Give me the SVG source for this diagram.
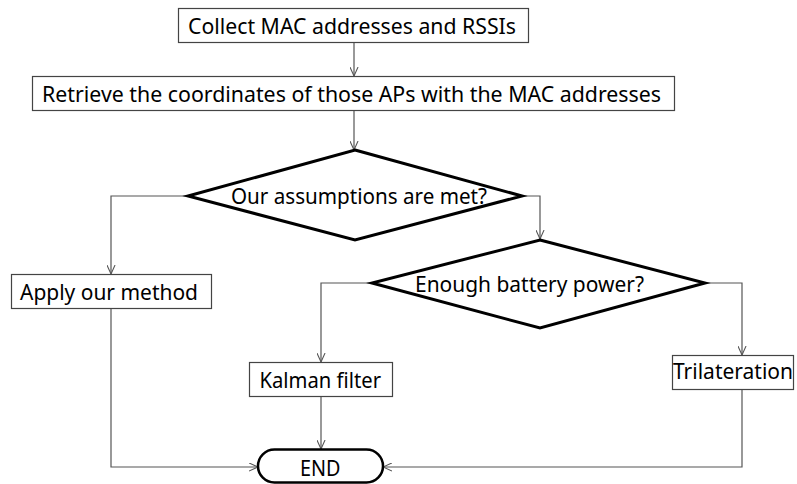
<svg xmlns="http://www.w3.org/2000/svg" width="797" height="484" viewBox="0 0 797 484">
<style>
text{font-family:"Noto Sans","Open Sans","Liberation Sans",sans-serif;font-size:21px;fill:#000}
.box{fill:#fff;stroke:#444;stroke-width:1.2}
.dia{fill:#fff;stroke:#000;stroke-width:3;stroke-linejoin:miter}
.term{fill:#fff;stroke:#000;stroke-width:2.5}
.con{fill:none;stroke:#555;stroke-width:1.2}
</style>
<defs>
<marker id="arr" viewBox="0 0 10 10" refX="10" refY="5" markerWidth="9" markerHeight="9" markerUnits="userSpaceOnUse" orient="auto">
<path d="M0,0.5 L10,5 L0,9.5" fill="none" stroke="#555" stroke-width="1.2"/>
</marker>
</defs>
<rect width="797" height="484" fill="#fff"/>
<g id="connectors">
<path class="con" d="M354,42 V76" marker-end="url(#arr)"/>
<path class="con" d="M354,111 V150" marker-end="url(#arr)"/>
<path class="con" d="M188,196 H111 V274" marker-end="url(#arr)"/>
<path class="con" d="M522,196 H540 V239" marker-end="url(#arr)"/>
<path class="con" d="M372,283 H321 V362" marker-end="url(#arr)"/>
<path class="con" d="M705,283 H742 V355" marker-end="url(#arr)"/>
<path class="con" d="M321,397 V449" marker-end="url(#arr)"/>
<path class="con" d="M111,309 V467 H258" marker-end="url(#arr)"/>
<path class="con" d="M742,390 V467 H383" marker-end="url(#arr)"/>
</g>
<g id="collect">
<rect class="box" x="178.5" y="8.5" width="350" height="34"/>
<text x="188" y="34" textLength="328" lengthAdjust="spacingAndGlyphs">Collect MAC addresses and RSSIs</text>
</g>
<g id="retrieve">
<rect class="box" x="32.5" y="76.5" width="642" height="34"/>
<text x="42" y="102" textLength="619" lengthAdjust="spacingAndGlyphs">Retrieve the coordinates of those APs with the MAC addresses</text>
</g>
<g id="assumptions">
<polygon class="dia" points="355,150 522,196 355,240 188,196"/>
<text x="231" y="204" textLength="256" lengthAdjust="spacingAndGlyphs">Our assumptions are met?</text>
</g>
<g id="apply">
<rect class="box" x="11.5" y="274.5" width="200" height="34"/>
<text x="20" y="300" textLength="178" lengthAdjust="spacingAndGlyphs">Apply our method</text>
</g>
<g id="battery">
<polygon class="dia" points="540,240 705,283 540,328 372,283"/>
<text x="415" y="292" textLength="229" lengthAdjust="spacingAndGlyphs">Enough battery power?</text>
</g>
<g id="kalman">
<rect class="box" x="249.5" y="362.5" width="143" height="34"/>
<text x="259.5" y="388" textLength="121.5" lengthAdjust="spacingAndGlyphs">Kalman filter</text>
</g>
<g id="trilateration">
<rect class="box" x="672.5" y="355.5" width="121" height="34"/>
<text x="733" y="379" font-size="17" text-anchor="middle">Trilateration</text>
</g>
<g id="end">
<rect class="term" x="258" y="449.5" width="125" height="33" rx="16.5"/>
<text x="300" y="476" textLength="40.5" lengthAdjust="spacingAndGlyphs">END</text>
</g>
</svg>
